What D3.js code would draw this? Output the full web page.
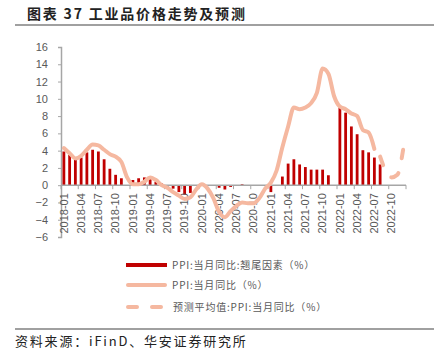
<!DOCTYPE html>
<html>
<head>
<meta charset="utf-8">
<script src="https://cdn.jsdelivr.net/npm/d3@7"></script>
<style>
  body { margin: 0; background: #fff; }
  svg { display: block; }
</style>
</head>
<body>
<div id="chart-area"></div>
<script>
// months shown on the x axis, 2018-01 .. 2022-12
var months = [];
[2018, 2019, 2020, 2021, 2022].forEach(function(y){
    for (var m = 1; m <= 12; m++){
        months.push(y + "-" + (m < 10 ? "0" + m : m));
    }
});

// PPI 当月同比:翘尾因素, 2018-01 .. 2022-08
var tailValues = [
    3.9, 3.5, 3.1, 3.2, 3.8, 4.1, 3.9, 3.0, 1.9, 1.2, 0.8, 0,
    0.6, 0.8, 0.9, 0.9, 0.4, 0.2, -0.2, -0.4, -0.8, -1.1, -0.9, 0,
    0, -0.1, 0, -0.3, -0.5, -0.2, 0, 0.1, 0, 0, 0, 0,
    -0.8, 0, 1.0, 2.5, 3.0, 2.4, 2.1, 1.8, 1.8, 1.8, 1.15, 0,
    9.0, 8.4, 6.8, 5.9, 4.05, 3.8, 3.2, 2.4
];

// PPI 当月同比, 2018-01 .. 2022-07
var ppiValues = [
    4.3, 3.7, 3.1, 3.4, 4.1, 4.7, 4.6, 4.1, 3.6, 3.3, 2.7, 0.9,
    0.1, 0.1, 0.4, 0.9, 0.6, 0.0, -0.3, -0.8, -1.2, -1.6, -1.4, -0.5,
    0.1, -0.4, -1.5, -3.1, -3.7, -3.0, -2.4, -2.0, -2.1, -2.1, -1.5, -0.4,
    0.3, 1.7, 4.4, 6.8, 9.0, 8.8, 9.0, 9.5, 10.7, 13.5, 12.9, 10.3,
    9.1, 8.8, 8.3, 8.0, 6.4, 6.1, 4.2
];

// 预测平均值, 2022-08 .. 2022-12
var forecastMonths = ["2022-08", "2022-09", "2022-10", "2022-11", "2022-12"];
var forecastValues = [3.3, 1.6, 0.9, 1.2, 4.1];

var yTicks = [-6, -4, -2, 0, 2, 4, 6, 8, 10, 12, 14, 16];

var legendLabels = [
    "PPI:当月同比:翘尾因素（%）",
    "PPI:当月同比（%）",
    "预测平均值:PPI:当月同比（%）"
];

var title = "图表 37 工业品价格走势及预测";
var source = "资料来源：iFinD、华安证券研究所";

var width = 434, height = 354;
var barColor = "#C00000", lineColor = "#F5B8A0";
var textColor = "#595959", axisColor = "#A6A6A6";
var latin = "'Liberation Sans', Arial, sans-serif";
var cjk = "'Noto Sans CJK SC', 'Liberation Sans', sans-serif";

var svg = d3.select("#chart-area").append("svg")
    .attr("width", width)
    .attr("height", height);

// title and rules
svg.append("text")
    .attr("x", 27).attr("y", 19)
    .attr("font-family", cjk)
    .attr("font-size", 14)
    .attr("font-weight", "bold")
    .attr("letter-spacing", "1.8px")
    .attr("fill", "#222")
    .text(title);
svg.append("line")
    .attr("x1", 15).attr("x2", width)
    .attr("y1", 25).attr("y2", 25)
    .attr("stroke", "#808080").attr("stroke-width", 1.5);

svg.append("line")
    .attr("x1", 15).attr("x2", width)
    .attr("y1", 329).attr("y2", 329)
    .attr("stroke", "#808080").attr("stroke-width", 1.5);
svg.append("text")
    .attr("x", 15).attr("y", 346)
    .attr("font-family", cjk)
    .attr("font-size", 13)
    .attr("letter-spacing", "1.8px")
    .attr("fill", "#222")
    .text(source);

// scales
var x = d3.scaleBand()
    .domain(months)
    .range([61, 406]);
var y = d3.scaleLinear()
    .domain([-6, 16])
    .range([237, 47]);
var bw = x.bandwidth();

// y axis
var yAxis = svg.append("g")
    .attr("transform", "translate(61,0)")
    .call(d3.axisLeft(y).tickValues(yTicks).tickSize(3).tickPadding(10));
yAxis.select(".domain").attr("stroke", axisColor).attr("stroke-width", 1.5);
yAxis.selectAll(".tick line").attr("stroke", axisColor);
yAxis.selectAll("text")
    .attr("font-family", latin)
    .attr("font-size", 11)
    .attr("fill", textColor);

// bars
svg.selectAll("rect.bar")
    .data(tailValues)
    .enter()
    .append("rect")
        .attr("class", "bar")
        .attr("x", function(d, i){ return x(months[i]) + bw / 2 - 1.4; })
        .attr("y", function(d){ return y(Math.max(0, d)); })
        .attr("width", 2.8)
        .attr("height", function(d){ return Math.abs(y(d) - y(0)); })
        .attr("fill", barColor);

// x axis at zero
var quarters = months.filter(function(m, i){ return i % 3 === 0; });
svg.append("line")
    .attr("x1", 61).attr("x2", 406)
    .attr("y1", y(0)).attr("y2", y(0))
    .attr("stroke", axisColor).attr("stroke-width", 1.5);
svg.selectAll("line.xtick")
    .data(quarters.concat(["end"]))
    .enter()
    .append("line")
        .attr("class", "xtick")
        .attr("x1", function(d){ return d === "end" ? 406 : x(d); })
        .attr("x2", function(d){ return d === "end" ? 406 : x(d); })
        .attr("y1", y(0)).attr("y2", y(0) + 4)
        .attr("stroke", axisColor);
svg.selectAll("text.xlabel")
    .data(quarters)
    .enter()
    .append("text")
        .attr("class", "xlabel")
        .attr("transform", function(d){
            return "translate(" + (x(d) + bw / 2) + "," + (y(0) + 8) + ") rotate(-90)";
        })
        .attr("dy", "0.35em")
        .attr("text-anchor", "end")
        .attr("font-family", latin)
        .attr("font-size", 11)
        .attr("fill", textColor)
        .text(function(d){ return d; });

// PPI line
var line = d3.line()
    .x(function(d){ return x(d.m) + bw / 2; })
    .y(function(d){ return y(d.v); })
    .curve(d3.curveMonotoneX);

var ppiRows = ppiValues.map(function(v, i){ return { m: months[i], v: v }; });
svg.append("path")
    .datum(ppiRows)
    .attr("d", line)
    .attr("fill", "none")
    .attr("stroke", lineColor)
    .attr("stroke-width", 4)
    .attr("stroke-linejoin", "round")
    .attr("stroke-linecap", "round");

var forecastRows = forecastValues.map(function(v, i){ return { m: forecastMonths[i], v: v }; });
svg.append("path")
    .datum(forecastRows)
    .attr("d", line)
    .attr("fill", "none")
    .attr("stroke", lineColor)
    .attr("stroke-width", 4)
    .attr("stroke-dasharray", "9,15")
    .attr("stroke-linecap", "round");

// legend
var legendY = [265, 285, 307];
var legend = svg.selectAll("g.legend")
    .data(legendLabels)
    .enter()
    .append("g")
        .attr("class", "legend")
        .attr("transform", function(d, i){ return "translate(0," + legendY[i] + ")"; });

legend.each(function(d, i){
    var g = d3.select(this);
    if (i === 0){
        g.append("rect")
            .attr("x", 126).attr("y", -2)
            .attr("width", 41).attr("height", 4)
            .attr("fill", barColor);
    } else {
        g.append("line")
            .attr("x1", 128).attr("x2", 165)
            .attr("y1", 0).attr("y2", 0)
            .attr("stroke", lineColor)
            .attr("stroke-width", 4)
            .attr("stroke-linecap", "round")
            .attr("stroke-dasharray", i === 2 ? "9,15" : null);
    }
    g.append("text")
        .attr("x", i === 2 ? 173 : 172)
        .attr("y", 0)
        .attr("dy", "0.35em")
        .attr("font-family", cjk)
        .attr("font-size", 10)
        .attr("letter-spacing", "0.8px")
        .attr("fill", textColor)
        .text(d);
});
</script>
</body>
</html>
